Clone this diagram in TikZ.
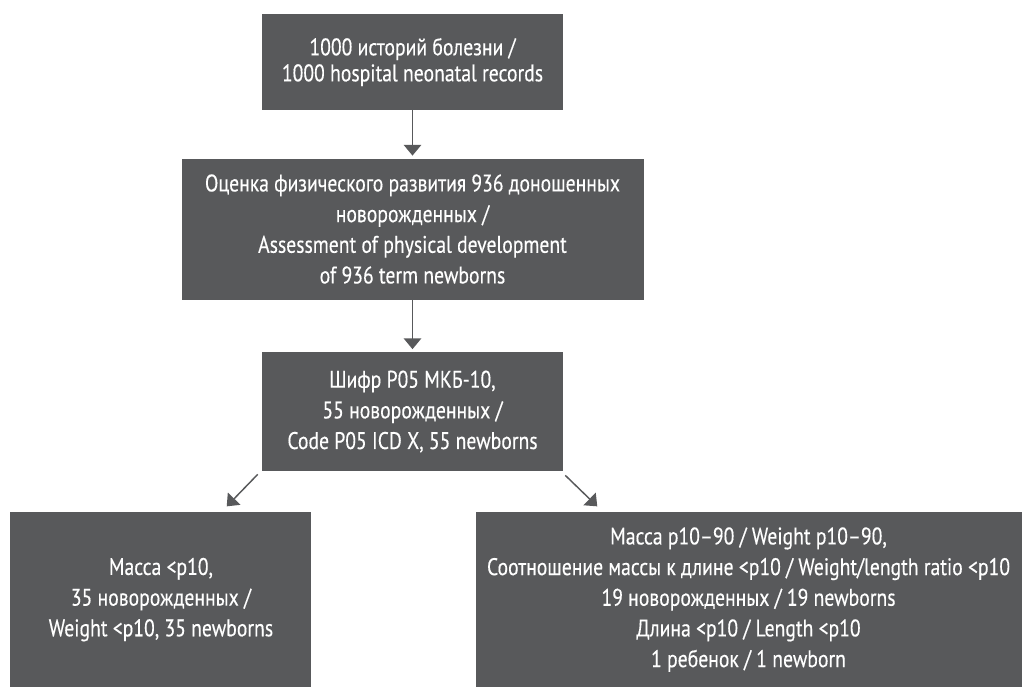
\documentclass[tikz,border=0pt]{standalone}
\usepackage{fontspec}
\newfontfamily\boxfont{PT Sans}[FakeStretch=0.82, FakeBold=0.3]
\usetikzlibrary{arrows.meta, positioning}
\definecolor{boxg}{HTML}{58595B}

\begin{document}
\begin{tikzpicture}[x=0.75pt, y=-0.75pt, >={Triangle[width=13pt,length=8pt]},
        every node/.style={fill=boxg, text=white, align=center, inner sep=0pt,
        font=\boxfont\fontsize{18}{23}\selectfont},
        narrowbox/.style={minimum width=225.75pt}, arr/.style={->, boxg, line width=1.1pt}]
        \useasboundingbox (0,0) rectangle (1024,686);
        \node[narrowbox, minimum height=72pt, font=\boxfont\fontsize{18}{19.5}\selectfont] (b_1) at (412.5,62)
            {1000 историй болезни /\\1000 hospital neonatal records};
        \node[minimum width=346.5pt, minimum height=105.75pt] (b_2) [below=36pt of b_1]
            {Оценка физического развития 936 доношенных\\новорожденных /\\Assessment of physical development\\of 936 term newborns};
        \node[narrowbox, minimum height=89.25pt] (b_3) [below=39pt of b_2]
            {Шифр P05 МКБ-10,\\55 новорожденных /\\Code P05 ICD X, 55 newborns};
        \node[narrowbox, minimum height=132pt] (b_4) [below left=30pt and -37.5pt of b_3]
            {Масса <p10,\\35 новорожденных /\\Weight <p10, 35 newborns};
        \node[minimum width=409.5pt, minimum height=132pt] (b_5) [below right=30pt and -66pt of b_3]
            {Масса p10–90 / Weight p10–90,\\Соотношение массы к длине <p10 / Weight/length ratio <p10\\19 новорожденных / 19 newborns\\Длина <p10 / Length <p10\\1 ребенок / 1 newborn};
        \draw[arr, shorten >=2pt] (b_1.south) -- (b_2.north);
        \draw[arr, shorten >=2pt] (b_2.south) -- (b_3.north);
        \draw[arr] ([shift={(-4,3)}]b_3.south west) -- ([shift={(-85,-5)}]b_4.north east);
        \draw[arr] ([shift={(2,4)}]b_3.south east) -- ([shift={(122,-5)}]b_5.north west);
    \end{tikzpicture}
\end{document}
